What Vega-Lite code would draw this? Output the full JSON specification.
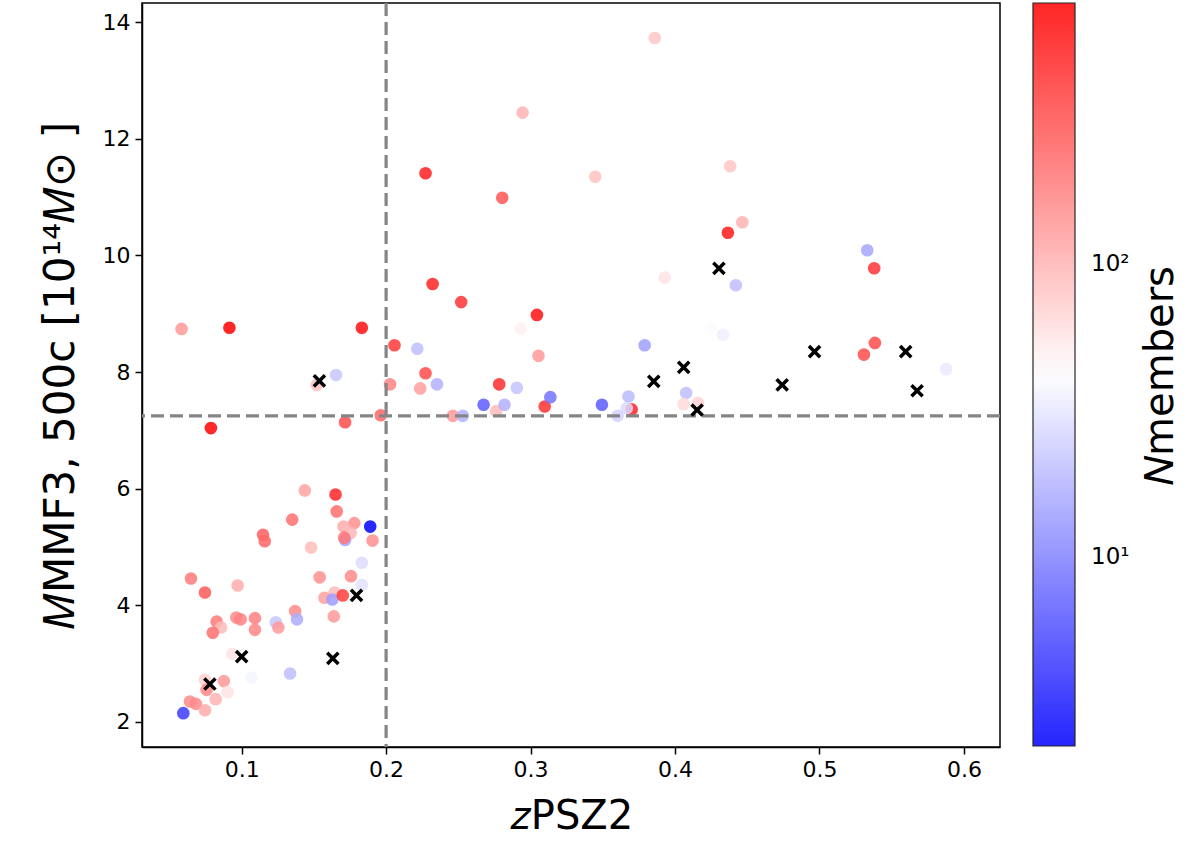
{
  "$schema": "https://vega.github.io/schema/vega-lite/v6.json",
  "width": 858,
  "height": 744,
  "autosize": {"type": "none"},
  "padding": {"left": 142, "top": 3, "right": 200, "bottom": 111},
  "background": "white",
  "config": {
    "font": "DejaVu Sans",
    "view": {"stroke": "black", "strokeWidth": 1.5},
    "axis": {
      "labelFont": "DejaVu Sans", "labelFontSize": 22, "labelColor": "black",
      "tickColor": "black", "tickWidth": 1.5, "tickSize": 7,
      "domainColor": "black", "domainWidth": 1.5, "grid": false,
      "titleFont": "DejaVu Sans", "titleFontWeight": "normal", "titleColor": "black",
      "labelPadding": 5
    }
  },
  "resolve": {"axis": {"y": "independent"}},
  "datasets": {
    "members": [
      {"z":0.1437,"M":5.97,"N":120},{"z":0.165,"M":5.90,"N":500},{"z":0.1658,"M":5.61,"N":220},
      {"z":0.178,"M":5.41,"N":150},{"z":0.1705,"M":5.35,"N":110},{"z":0.189,"M":5.35,"N":2.3},
      {"z":0.1755,"M":5.24,"N":95},{"z":0.1716,"M":5.12,"N":15},{"z":0.171,"M":5.16,"N":200},
      {"z":0.1906,"M":5.11,"N":150},{"z":0.135,"M":5.47,"N":220},{"z":0.1148,"M":5.21,"N":260},
      {"z":0.116,"M":5.10,"N":240},{"z":0.148,"M":4.99,"N":90},{"z":0.1832,"M":4.73,"N":28},
      {"z":0.0649,"M":4.46,"N":190},{"z":0.0972,"M":4.34,"N":110},{"z":0.0746,"M":4.22,"N":280},
      {"z":0.154,"M":4.48,"N":150},{"z":0.1757,"M":4.50,"N":160},{"z":0.1832,"M":4.35,"N":30},
      {"z":0.1643,"M":4.22,"N":92},{"z":0.1573,"M":4.13,"N":125},{"z":0.1628,"M":4.10,"N":14},
      {"z":0.170,"M":4.17,"N":380},{"z":0.1638,"M":3.81,"N":135},{"z":0.137,"M":3.90,"N":160},
      {"z":0.1383,"M":3.76,"N":16},{"z":0.1236,"M":3.71,"N":22},{"z":0.1254,"M":3.62,"N":135},
      {"z":0.1092,"M":3.78,"N":180},{"z":0.1092,"M":3.58,"N":165},{"z":0.0963,"M":3.79,"N":160},
      {"z":0.0993,"M":3.76,"N":175},{"z":0.0827,"M":3.72,"N":195},{"z":0.0857,"M":3.62,"N":92},
      {"z":0.08,"M":3.53,"N":215},{"z":0.0935,"M":3.17,"N":58},{"z":0.1335,"M":2.83,"N":20},
      {"z":0.1069,"M":2.76,"N":37},{"z":0.0746,"M":2.72,"N":72},{"z":0.0757,"M":2.55,"N":165},
      {"z":0.0877,"M":2.70,"N":135},{"z":0.0903,"M":2.51,"N":58},{"z":0.082,"M":2.39,"N":100},
      {"z":0.0642,"M":2.35,"N":160},{"z":0.0683,"M":2.31,"N":160},{"z":0.0746,"M":2.20,"N":110},
      {"z":0.0596,"M":2.15,"N":4.5},{"z":0.0584,"M":8.74,"N":135},{"z":0.0915,"M":8.76,"N":774},
      {"z":0.1832,"M":8.76,"N":650},{"z":0.2058,"M":8.46,"N":400},{"z":0.1653,"M":7.95,"N":22},
      {"z":0.152,"M":7.78,"N":85},{"z":0.2027,"M":7.79,"N":175},{"z":0.0787,"M":7.04,"N":740},
      {"z":0.1716,"M":7.14,"N":330},{"z":0.1963,"M":7.26,"N":240},{"z":0.386,"M":13.73,"N":80},
      {"z":0.2945,"M":12.45,"N":100},{"z":0.2273,"M":11.41,"N":550},{"z":0.3448,"M":11.35,"N":85},
      {"z":0.2804,"M":10.99,"N":290},{"z":0.3929,"M":9.62,"N":58},{"z":0.2322,"M":9.51,"N":520},
      {"z":0.252,"M":9.20,"N":420},{"z":0.3044,"M":8.98,"N":640},{"z":0.2933,"M":8.75,"N":50},
      {"z":0.2216,"M":8.40,"N":20},{"z":0.3055,"M":8.28,"N":135},{"z":0.2273,"M":7.98,"N":330},
      {"z":0.2352,"M":7.79,"N":17},{"z":0.2236,"M":7.72,"N":125},{"z":0.2783,"M":7.79,"N":480},
      {"z":0.2905,"M":7.73,"N":21},{"z":0.2675,"M":7.44,"N":6.5},{"z":0.2762,"M":7.33,"N":92},
      {"z":0.282,"M":7.44,"N":17},{"z":0.3098,"M":7.41,"N":440},{"z":0.3137,"M":7.57,"N":8.5},
      {"z":0.2462,"M":7.25,"N":135},{"z":0.2531,"M":7.25,"N":17},{"z":0.379,"M":8.46,"N":14},
      {"z":0.3494,"M":7.44,"N":6.5},{"z":0.37,"M":7.36,"N":500},{"z":0.3678,"M":7.58,"N":19},
      {"z":0.3666,"M":7.38,"N":27},{"z":0.3603,"M":7.25,"N":25},{"z":0.4077,"M":7.64,"N":20},
      {"z":0.406,"M":7.45,"N":65},{"z":0.416,"M":7.47,"N":70},{"z":0.4382,"M":11.53,"N":80},
      {"z":0.4466,"M":10.57,"N":100},{"z":0.4366,"M":10.39,"N":580},{"z":0.4421,"M":9.49,"N":20},
      {"z":0.4245,"M":8.76,"N":40},{"z":0.4333,"M":8.64,"N":35},{"z":0.5331,"M":10.09,"N":15},
      {"z":0.5379,"M":9.78,"N":420},{"z":0.5384,"M":8.50,"N":330},{"z":0.5308,"M":8.30,"N":330},
      {"z":0.5877,"M":8.05,"N":33}
    ],
    "nomembers": [
      {"z":0.1795,"M":4.17},{"z":0.1,"M":3.12},{"z":0.1631,"M":3.09},{"z":0.078,"M":2.65},
      {"z":0.1538,"M":7.85},{"z":0.3853,"M":7.84},{"z":0.406,"M":8.08},{"z":0.4153,"M":7.35},
      {"z":0.4304,"M":9.78},{"z":0.4966,"M":8.35},{"z":0.4742,"M":7.78},{"z":0.5597,"M":8.35},
      {"z":0.5676,"M":7.68}
    ],
    "lines": [{"zc": 0.2, "Mc": 7.25}]
  },
  "layer": [
    {
      "data": {"name": "members"},
      "mark": {"type": "circle", "size": 160, "opacity": 0.85},
      "encoding": {
        "x": {
          "field": "z", "type": "quantitative",
          "scale": {"domain": [0.031, 0.625], "nice": false, "zero": false},
          "axis": {"values": [0.1, 0.2, 0.3, 0.4, 0.5, 0.6], "format": ".1f", "title": "𝑧PSZ2", "titleFontSize": 40, "titlePadding": 16}
        },
        "y": {
          "field": "M", "type": "quantitative",
          "scale": {"domain": [1.57, 14.33], "nice": false, "zero": false},
          "axis": {"values": [2, 4, 6, 8, 10, 12, 14], "format": "d", "title": "𝑀MMF3, 500c [10¹⁴𝑀⊙ ]", "titleFontSize": 42, "titlePadding": 20}
        },
        "color": {
          "field": "N", "type": "quantitative",
          "scale": {"type": "log", "domain": [2.27, 41.9, 774], "range": ["#0000ff", "#ffffff", "#ff0000"], "interpolate": "rgb"},
          "legend": {
            "orient": "none", "legendX": 891, "legendY": 0, "padding": 0,
            "direction": "vertical", "gradientLength": 743, "gradientThickness": 42,
            "gradientStrokeColor": "black", "gradientStrokeWidth": 1.2,
            "values": [10, 100], "labelExpr": "datum.value == 10 ? '10¹' : '10²'",
            "labelFontSize": 23, "labelFont": "DejaVu Sans", "labelColor": "black", "labelOffset": 16, "labelOverlap": false,
            "title": null
          }
        }
      }
    },
    {
      "data": {"name": "lines"},
      "mark": {"type": "rule", "color": "#858585", "strokeWidth": 3.2, "strokeDash": [13, 6]},
      "encoding": {"x": {"field": "zc", "type": "quantitative"}}
    },
    {
      "data": {"name": "lines"},
      "mark": {"type": "rule", "color": "#858585", "strokeWidth": 3.2, "strokeDash": [13, 6]},
      "encoding": {
        "y": {
          "field": "Mc", "type": "quantitative",
          "axis": {"orient": "right", "labels": false, "ticks": false, "domain": false, "grid": false,
                   "title": "𝑁members", "titleFontSize": 40, "titleAngle": 270, "titleBaseline": "top",
                   "titlePadding": 140, "titleLimit": 600}
        }
      }
    },
    {
      "data": {"name": "nomembers"},
      "mark": {"type": "point", "shape": "M-1,-1L1,1M1,-1L-1,1", "filled": false, "stroke": "black", "strokeWidth": 3.5, "size": 125, "opacity": 1},
      "encoding": {
        "x": {"field": "z", "type": "quantitative"},
        "y": {"field": "M", "type": "quantitative", "axis": null}
      }
    }
  ]
}
